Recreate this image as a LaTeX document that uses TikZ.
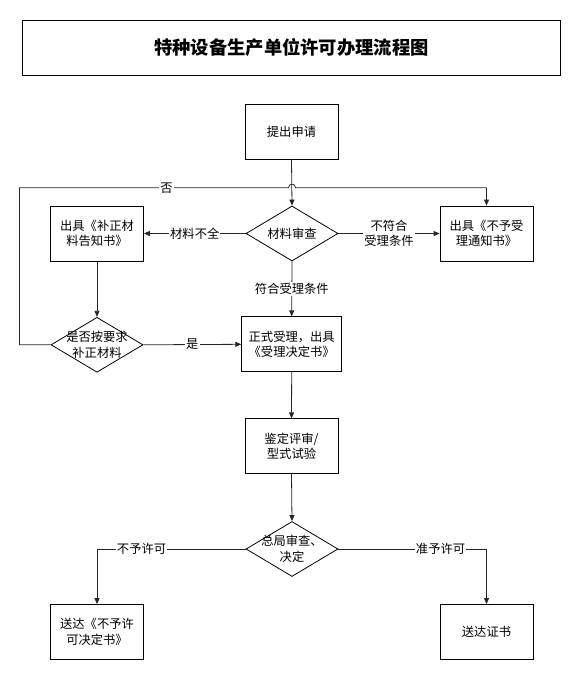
\documentclass[tikz,border=0pt]{standalone}
\usepackage{fontspec}
\newfontfamily\cjk{Noto Sans CJK SC}
\usetikzlibrary{shapes.geometric,arrows.meta}
\begin{document}
\begin{tikzpicture}[x=1pt,y=-1pt,
  every node/.style={font=\cjk\fontsize{12.3}{15.5}\selectfont},
  stepbox/.style={draw,line width=0.8pt,minimum width=93pt,minimum height=55pt,align=center,inner sep=1pt},
  decide/.style={draw,diamond,line width=0.8pt,minimum width=92pt,minimum height=55pt,inner sep=0pt},
  conn/.style={line width=0.8pt,draw=black!85},
  arr/.style={conn,-{Triangle[length=6pt,width=5pt]}},
  lab/.style={fill=white,inner sep=1pt,align=center}]
\useasboundingbox (0,0) rectangle (587,693);
% title
\node[draw,line width=0.8pt,minimum width=538pt,minimum height=55pt,font=\cjk\bfseries\fontsize{18.3}{22}\selectfont] (title) at (291.5,48) {特种设备生产单位许可办理流程图};
% nodes
\node[stepbox] (start) at (291.5,131.5) {提出申请};
\node[decide,label={[align=center]center:材料审查}] (check) at (292,233.5) {};
\node[stepbox] (bz) at (97,233.5) {出具《补正材\\料告知书》};
\node[stepbox] (nz) at (486.5,233.5) {出具《不予受\\理通知书》};
\node[decide,label={[align=center]center:是否按要求\\补正材料}] (d2) at (97,344.8) {};
\node[stepbox,minimum width=100pt] (accept) at (291.7,344.3) {正式受理，出具\\《受理决定书》};
\node[stepbox] (review) at (291.5,446.3) {鉴定评审/\\型式试验};
\node[decide,label={[align=center]center:总局审查、\\决定}] (d3) at (292,549) {};
\node[stepbox] (deny) at (97,632) {送达《不予许\\可决定书》};
\node[stepbox] (cert) at (486.5,632) {送达证书};
% coordinates
\coordinate (l1) at (19.5,344.8);
\coordinate (l2) at (19.5,187.7);
\coordinate (h1) at (288.5,187.7);
\coordinate (h2) at (295.5,187.7);
\coordinate (r1) at (486.5,187.7);
\coordinate (dl) at (97,549);
\coordinate (dr) at (486.5,549);
% connectors
\draw[arr] (start.south) -- (check.north);
\draw[arr] (check.west) -- node[lab]{材料不全} (bz.east);
\draw[arr] (check.east) -- node[lab]{不符合\\受理条件} (nz.west);
\draw[arr] (check.south) -- node[lab]{符合受理条件} (accept.north);
\draw[arr] (bz.south) -- (d2.north);
\draw[arr] (d2.east) -- node[lab]{是} (accept.west);
\draw[conn] (d2.west) -- (l1) -- (l2) -- node[lab,pos=0.547]{否} (h1) .. controls (288.5,183) and (295.5,183) .. (h2) -- (r1);
\draw[arr] (r1) -- (nz.north);
\draw[arr] (accept.south) -- (review.north);
\draw[arr] (review.south) -- (d3.north);
\draw[conn] (d3.west) -- node[lab,pos=0.70]{不予许可} (dl);
\draw[arr] (dl) -- (deny.north);
\draw[conn] (d3.east) -- node[lab,pos=0.69]{准予许可} (dr);
\draw[arr] (dr) -- (cert.north);
\end{tikzpicture}
\end{document}
